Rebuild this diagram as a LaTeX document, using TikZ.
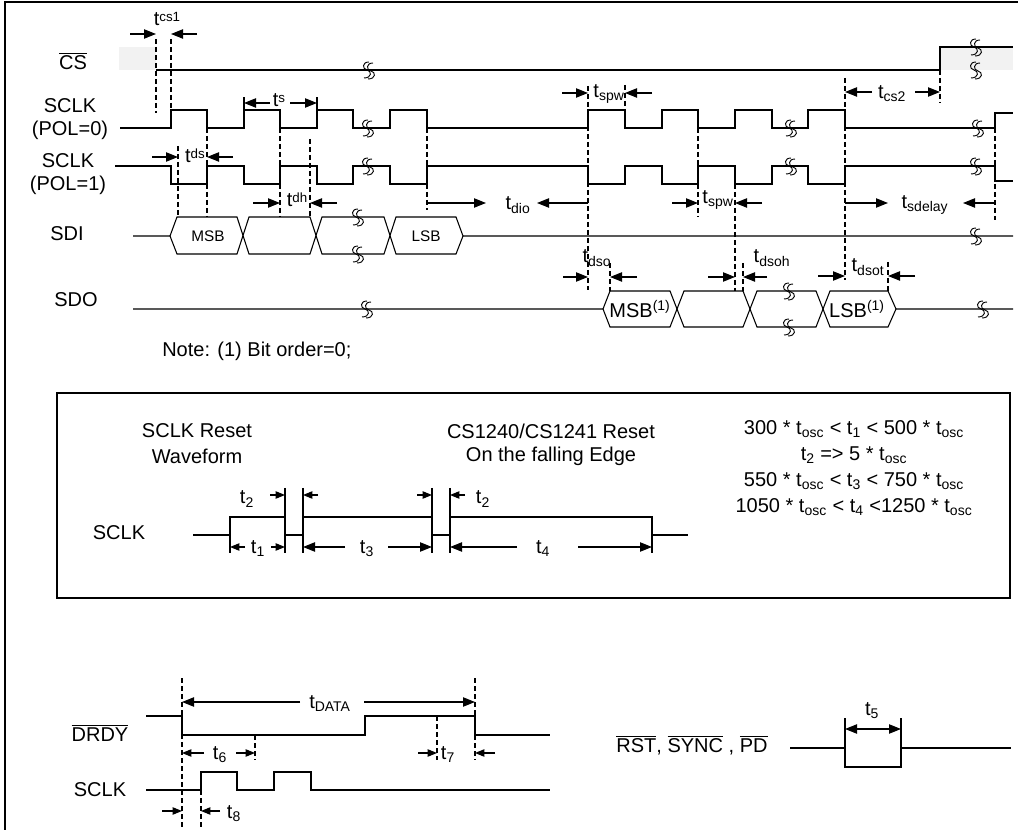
\documentclass[tikz,border=0pt]{standalone}
\usepackage{fontspec}
\setmainfont{Liberation Sans}
\usepackage{tikz}
\usetikzlibrary{arrows.meta, positioning}

\newcommand{\tsub}[1]{t\textsubscript{#1}}
\newcommand{\traised}[1]{t\raisebox{0.35ex}{\fontsize{10}{12}\selectfont #1}}
\newcommand{\ovl}[1]{\ensuremath{\overline{\mbox{#1}}}}

\tikzset{
  every node/.style={inner sep=0pt, font=\fontsize{15}{18}\selectfont},
  wave/.style={line width=0.8pt},
  guide/.style={line width=0.9pt, dash pattern=on 4pt off 2pt},
  dim/.style={line width=0.8pt, -{Triangle[length=9pt, width=7pt]}},
  dimsmall/.style={line width=0.8pt, -{Triangle[length=7pt, width=5.5pt]}},
  brk/.pic={
    \draw[line width=0.7pt] (1,-8) .. controls (-6,-8) and (-6,-1) .. (-1,0) .. controls (4,1) and (4,8) .. (-4,8);
    \draw[line width=0.7pt] (5,-7) .. controls (-2,-7) and (-2,0) .. (3,1) .. controls (8,2) and (8,9) .. (0,9);
  }
}

\begin{document}
\begin{tikzpicture}[x=0.75pt, y=-0.75pt]
        \useasboundingbox (0,0) rectangle (1018,830);
        \draw[line width=1.5pt] (5,830) -- (5,2) -- (1018,2);

        % Signal names
        \node (cs) at (73,61) {\ovl{CS}};
        \node (sclka) at (70,106) {SCLK};
        \node (pola) at (70,130) {(POL=0)};
        \node (sclkb) at (68,161) {SCLK};
        \node (polb) at (68,185) {(POL=1)};
        \node (sdi) at (67,234) {SDI};
        \node (sdo) at (76,300) {SDO};
        \node (note) [anchor=west] at (162,351) {Note: (1) Bit order=0;};

        % CS
        \fill[gray!10] (119,47) rectangle (156,70);
        \fill[gray!10] (940,47) rectangle (1013,70);
        \draw[wave] (156,70) -- (940,70) -- (940,47) -- (1013,47);
        \pic at (368,70) {brk};
        \pic at (975,47) {brk};
        \pic at (975,70) {brk};

        % SCLK, POL=0
        \draw[wave] (120,128) -- (171,128) -- (171,110) -- (207,110) -- (207,128) -- (244,128) -- (244,110) -- (280,110) -- (280,128)
          -- (317,128) -- (317,110) -- (353,110) -- (353,128) -- (390,128) -- (390,110) -- (427,110) -- (427,128) -- (588,128)
          -- (588,110) -- (625,110) -- (625,128) -- (662,128) -- (662,110) -- (698,110) -- (698,128) -- (735,128) -- (735,110)
          -- (772,110) -- (772,128) -- (808,128) -- (808,110) -- (845,110) -- (845,128) -- (995,128) -- (995,113) -- (1013,113);
        \draw[wave] (244,110) -- (244,97) (317,110) -- (317,97);
        \pic at (367,128) {brk};
        \pic at (790,128) {brk};
        \pic at (977,128) {brk};

        % SCLK, POL=1
        \draw[wave] (115,166) -- (171,166) -- (171,184) -- (207,184) -- (207,166) -- (244,166) -- (244,184) -- (280,184) -- (280,166)
          -- (317,166) -- (317,184) -- (353,184) -- (353,166) -- (390,166) -- (390,184) -- (427,184) -- (427,166) -- (588,166)
          -- (588,184) -- (625,184) -- (625,166) -- (662,166) -- (662,184) -- (698,184) -- (698,166) -- (735,166) -- (735,184)
          -- (772,184) -- (772,166) -- (808,166) -- (808,184) -- (845,184) -- (845,166) -- (995,166) -- (995,181) -- (1013,181);
        \pic at (367,166) {brk};
        \pic at (790,166) {brk};
        \pic at (975,166) {brk};

        % SDI
        \draw[wave] (133,236) -- (170,236) -- (177,217) -- (237,217) -- (249,254) -- (310,254) -- (322,217) -- (384,217) -- (396,254) -- (456,254) -- (463,236);
        \draw[wave] (170,236) -- (177,254) -- (237,254) -- (249,217) -- (310,217) -- (322,254) -- (384,254) -- (396,217) -- (456,217) -- (463,236) -- (1013,236);
        \node (msbi) at (208,236) {\fontsize{11.5}{14}\selectfont MSB};
        \node (lsbi) at (426,236) {\fontsize{11.5}{14}\selectfont LSB};
        \pic at (357,217) {brk};
        \pic at (357,254) {brk};
        \pic at (975,236) {brk};

        % SDO
        \draw[wave] (133,309) -- (603,309) -- (610,291) -- (670,291) -- (684,327) -- (743,327) -- (757,291) -- (816,291) -- (830,327) -- (888,327) -- (896,309);
        \draw[wave] (603,309) -- (610,327) -- (670,327) -- (684,291) -- (743,291) -- (757,327) -- (816,327) -- (830,291) -- (888,291) -- (896,309) -- (1013,309);
        \node (msbo) at (640,309) {MSB\textsuperscript{(1)}};
        \node (lsbo) at (857,309) {LSB\textsuperscript{(1)}};
        \pic at (366,309) {brk};
        \pic at (788,291) {brk};
        \pic at (788,327) {brk};
        \pic at (982,309) {brk};

        % Guide lines
        \draw[guide] (156,39) -- (156,113);
        \draw[guide] (171,39) -- (171,110);
        \draw[guide] (178,146) -- (178,217);
        \draw[guide] (207,128) -- (207,217);
        \draw[guide] (280,128) -- (280,217);
        \draw[guide] (310,139) -- (310,217);
        \draw[guide] (427,128) -- (427,210);
        \draw[guide] (588,86) -- (588,290);
        \draw[guide] (625,85) -- (625,110);
        \draw[guide] (698,128) -- (698,217);
        \draw[guide] (735,184) -- (735,291);
        \draw[guide] (610,263) -- (610,291);
        \draw[guide] (743,263) -- (743,291);
        \draw[guide] (845,78) -- (845,280);
        \draw[guide] (888,262) -- (888,291);
        \draw[guide] (940,70) -- (940,103);
        \draw[guide] (995,128) -- (995,220);

        % Timing arrows
        \draw[dim] (130,34) -- (156,34);
        \draw[dim] (197,34) -- (171,34);
        \node (tcsa) at (167,19) {\traised{cs1}};
        \draw[dim] (270,103) -- (244,103);
        \draw[dim] (290,103) -- (317,103);
        \node (ts) at (279,100) {\traised{s}};
        \draw[dim] (152,157) -- (178,157);
        \draw[dim] (233,157) -- (207,157);
        \node (tds) at (195,156) {\traised{ds}};
        \draw[dim] (253,203) -- (280,203);
        \draw[dim] (337,203) -- (310,203);
        \node (tdh) at (297,200) {\traised{dh}};
        \draw[dim] (562,93) -- (588,93);
        \draw[dim] (652,93) -- (625,93);
        \node (tspwa) at (609,94) {\tsub{spw}};
        \draw[dim] (672,203) -- (698,203);
        \draw[dim] (762,203) -- (735,203);
        \node (tspwb) at (718,200) {\tsub{spw}};
        \draw[dim] (427,203) -- (486,203);
        \draw[dim] (588,203) -- (537,203);
        \node (tdio) at (518,205) {\tsub{dio}};
        \draw[dim] (563,277) -- (588,277);
        \draw[dim] (637,277) -- (610,277);
        \node (tdso) at (597,258) {\tsub{dso}};
        \draw[dim] (708,277) -- (735,277);
        \draw[dim] (767,277) -- (743,277);
        \node (tdsoh) at (772,258) {\tsub{dsoh}};
        \draw[dim] (872,92) -- (845,92);
        \draw[dim] (915,92) -- (940,92);
        \node (tcsb) at (892,94) {\tsub{cs2}};
        \draw[dim] (845,203) -- (888,203);
        \draw[dim] (995,203) -- (963,203);
        \node (tsdelay) at (925,205) {\tsub{sdelay}};
        \draw[dim] (818,276) -- (845,276);
        \draw[dim] (915,276) -- (888,276);
        \node (tdsot) at (868,267) {\tsub{dsot}};

        % Reset box
        \draw[line width=0.8pt] (57,393) rectangle (1010,598);
        \node (rsta) at (197,431) {SCLK Reset};
        \node (rstb) at (197,456) {Waveform};
        \node (rstc) at (551,431) {CS1240/CS1241 Reset};
        \node (rstd) at (551,456) {On the falling Edge};
        \node (eqs) [align=center, font=\fontsize{15}{19.5}\selectfont] at (854,468) {300 * \tsub{osc} < \tsub{1} < 500 * \tsub{osc}\\
          \tsub{2} => 5 * \tsub{osc}\\
          550 * \tsub{osc} < \tsub{3} < 750 * \tsub{osc}\\
          1050 * \tsub{osc} < \tsub{4} <1250 * \tsub{osc}};
        \node (sclkr) at (119,533) {SCLK};
        \draw[wave] (193,535) -- (230,535) -- (230,517) -- (285,517) -- (285,535) -- (303,535) -- (303,517) -- (432,517) -- (432,535)
          -- (450,535) -- (450,517) -- (652,517) -- (652,535) -- (688,535);
        \draw[wave] (285,488) -- (285,553) (303,488) -- (303,553) (432,488) -- (432,553) (450,488) -- (450,553);
        \draw[wave] (230,535) -- (230,553) (652,535) -- (652,553);
        \draw[dimsmall] (270,495) -- (285,495);
        \draw[dimsmall] (318,495) -- (303,495);
        \node (tb) at (247,499) {\tsub{2}};
        \draw[dimsmall] (417,495) -- (432,495);
        \draw[dimsmall] (465,495) -- (450,495);
        \node (tbb) at (483,499) {\tsub{2}};
        \draw[dimsmall] (245,547) -- (230,547);
        \draw[dimsmall] (271,547) -- (285,547);
        \node (ta) at (258,549) {\tsub{1}};
        \draw[dim] (345,547) -- (303,547);
        \draw[dim] (388,547) -- (432,547);
        \node (tc) at (367,549) {\tsub{3}};
        \draw[dim] (517,547) -- (450,547);
        \draw[dim] (578,547) -- (652,547);
        \node (td) at (543,549) {\tsub{4}};

        % DRDY and SCLK
        \node (drdy) at (100,733) {\ovl{DRDY}};
        \node (sclkd) at (100,790) {SCLK};
        \draw[wave] (146,716) -- (182,716) -- (182,735) -- (365,735) -- (365,716) -- (475,716) -- (475,735) -- (550,735);
        \draw[wave] (146,790) -- (201,790) -- (201,772) -- (237,772) -- (237,790) -- (274,790) -- (274,772) -- (311,772) -- (311,790) -- (550,790);
        \draw[guide] (182,678) -- (182,830);
        \draw[guide] (475,678) -- (475,716);
        \draw[guide] (475,735) -- (475,760);
        \draw[guide] (255,735) -- (255,760);
        \draw[guide] (437,716) -- (437,760);
        \draw[guide] (201,790) -- (201,830);
        \draw[dim] (300,702) -- (182,702);
        \draw[dim] (364,702) -- (475,702);
        \node (tdata) at (330,704) {\tsub{DATA}};
        \draw[dimsmall] (204,753) -- (182,753);
        \draw[dimsmall] (236,753) -- (255,753);
        \node (tf) at (220,755) {\tsub{6}};
        \draw[dimsmall] (418,753) -- (437,753);
        \draw[dimsmall] (495,753) -- (475,753);
        \node (tg) at (448,755) {\tsub{7}};
        \draw[dimsmall] (162,811) -- (182,811);
        \draw[dimsmall] (220,811) -- (201,811);
        \node (th) at (234,814) {\tsub{8}};

        % RST, SYNC, PD
        \node (rst) at (692,745) {\ovl{RST}, \ovl{SYNC} , \ovl{PD}};
        \draw[wave] (790,748) -- (845,748) -- (845,767) -- (901,767) -- (901,748) -- (1011,748);
        \draw[wave] (845,718) -- (845,748) (901,718) -- (901,748);
        \draw[dim, {Triangle[length=9pt, width=7pt]}-{Triangle[length=9pt, width=7pt]}] (845,729) -- (901,729);
        \node (te) at (872,711) {\tsub{5}};
\end{tikzpicture}
\end{document}
